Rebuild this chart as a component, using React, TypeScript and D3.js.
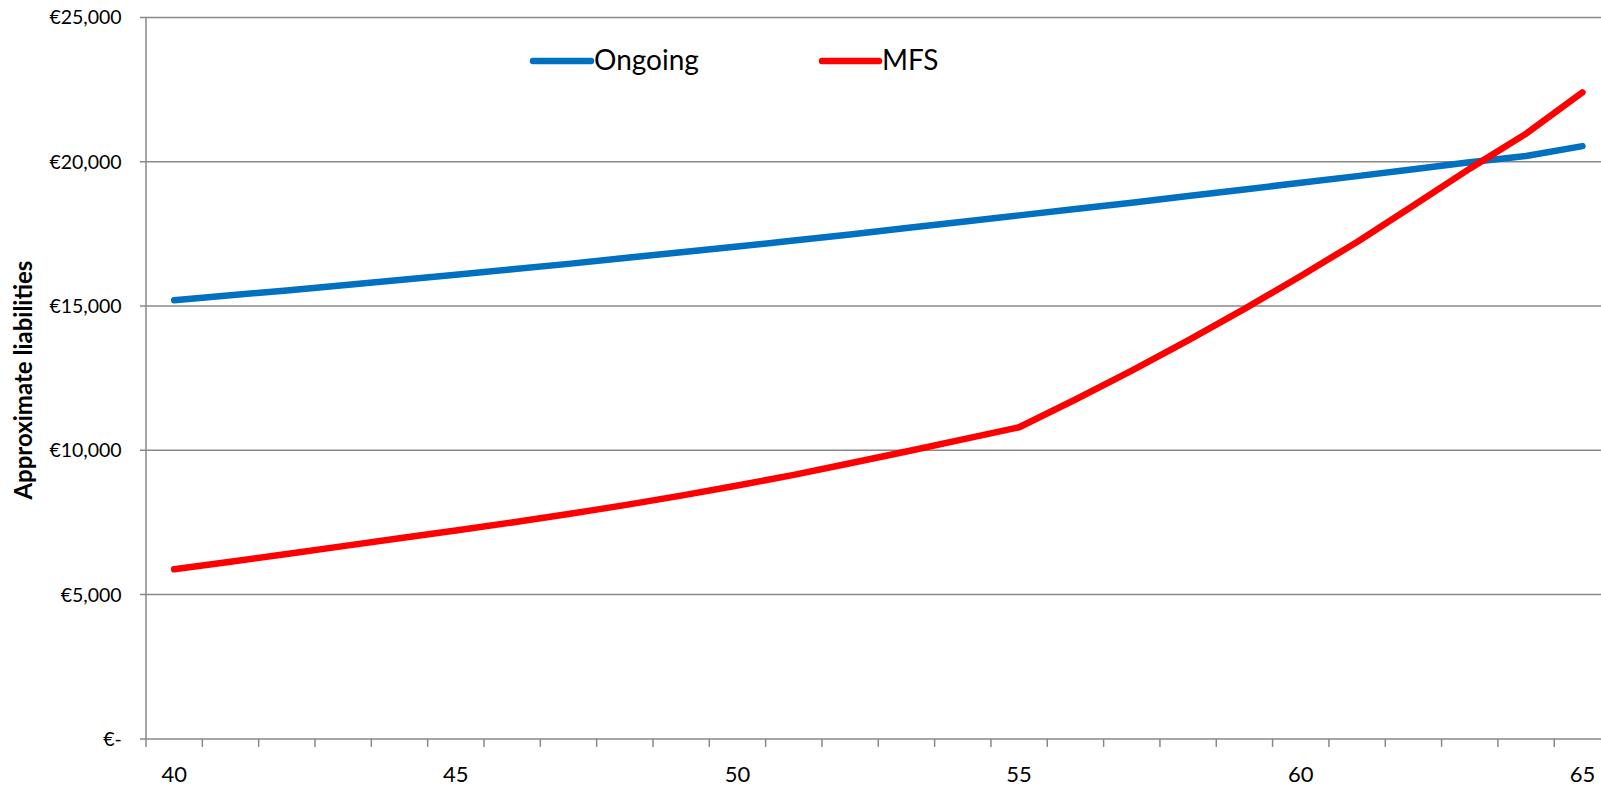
import React from "react";
import * as d3 from "d3";

// Ages on the category axis
const ages: number[] = [
  40, 41, 42, 43, 44, 45, 46, 47, 48, 49, 50, 51, 52,
  53, 54, 55, 56, 57, 58, 59, 60, 61, 62, 63, 64, 65,
];

// Approximate liabilities on an ongoing basis (€)
const ongoing: number[] = [
  15200, 15370, 15540, 15720, 15900, 16080, 16270, 16460, 16660, 16860, 17060, 17270, 17480,
  17700, 17920, 18140, 18360, 18580, 18810, 19040, 19270, 19500, 19740, 19980, 20200, 20540,
];

// Approximate liabilities on a minimum funding standard basis (€)
const mfs: number[] = [
  5880, 6140, 6410, 6680, 6950, 7220, 7500, 7790, 8100, 8430, 8780, 9150, 9550,
  9960, 10380, 10800, 11760, 12760, 13810, 14900, 16040, 17220, 18480, 19760, 20970, 22400,
];

const yTicks: number[] = [0, 5000, 10000, 15000, 20000, 25000];
const xLabelAges: number[] = [40, 45, 50, 55, 60, 65];

const seriesNames: string[] = ["Ongoing", "MFS"];
const seriesColors: string[] = ["#0070C0", "#FF0000"];

const W = 1601;
const H = 785;
const FONT = "Lato, 'Open Sans', sans-serif";
const GRID = "#888888";

export default function App() {
  const left = 146;
  const top = 17.4;
  const bottom = 738.9;
  const step = 56.33;
  const right = left + step * ages.length;

  const x = d3.scaleBand<number>().domain(ages).range([left, right]).padding(0);
  const y = d3.scaleLinear().domain([0, 25000]).range([bottom, top]);
  const cx = (a: number) => (x(a) as number) + x.bandwidth() / 2;

  const line = d3
    .line<number>()
    .x((_, i) => cx(ages[i]))
    .y((v) => y(v));

  const fmt = (v: number) => (v === 0 ? "€-" : "€" + d3.format(",")(v));

  const tickXs = d3.range(ages.length + 1).map((i) => left + i * x.bandwidth());

  const series = [ongoing, mfs];
  const legendItems = [
    { x1: 533, x2: 591, tx: 594 },
    { x1: 822, x2: 879, tx: 882 },
  ];

  return (
    <svg
      width={W}
      height={H}
      style={{ position: "absolute", left: 0, top: 0, display: "block", background: "#fff" }}
      fontFamily={FONT}
    >
      {/* horizontal gridlines */}
      {yTicks.map((t) => (
        <line key={"g" + t} x1={left - 6} x2={right} y1={y(t)} y2={y(t)} stroke={GRID} strokeWidth={1.5} />
      ))}
      {/* value axis */}
      <line x1={left} x2={left} y1={top} y2={bottom} stroke={GRID} strokeWidth={1.5} />
      {/* category tick marks */}
      {tickXs.map((tx, i) => (
        <line key={"t" + i} x1={tx} x2={tx} y1={bottom} y2={bottom + 8} stroke={GRID} strokeWidth={1.5} />
      ))}
      {/* value labels */}
      {yTicks.map((t) => (
        <text key={"yl" + t} x={121.7} y={y(t) + 7} textAnchor="end" fontSize={19.5} fill="#000">
          {fmt(t)}
        </text>
      ))}
      {/* category labels */}
      {xLabelAges.map((a) => (
        <text key={"xl" + a} x={cx(a)} y={781.5} textAnchor="middle" fontSize={22} fill="#000">
          {a}
        </text>
      ))}
      {/* axis title */}
      <text
        transform={`translate(31.5,${(top + bottom) / 2 + 2}) rotate(-90)`}
        textAnchor="middle"
        fontSize={24}
        fontWeight="bold"
        fill="#000"
      >
        Approximate liabilities
      </text>
      {/* series lines */}
      {series.map((s, i) => (
        <path
          key={"s" + i}
          d={line(s) || ""}
          fill="none"
          stroke={seriesColors[i]}
          strokeWidth={6.5}
          strokeLinecap="round"
          strokeLinejoin="round"
        />
      ))}
      {/* legend */}
      {legendItems.map((it, i) => (
        <g key={"lg" + i}>
          <line
            x1={it.x1}
            x2={it.x2}
            y1={61}
            y2={61}
            stroke={seriesColors[i]}
            strokeWidth={6.5}
            strokeLinecap="round"
          />
          <text x={it.tx} y={69.5} fontSize={28} fill="#000">
            {seriesNames[i]}
          </text>
        </g>
      ))}
    </svg>
  );
}
